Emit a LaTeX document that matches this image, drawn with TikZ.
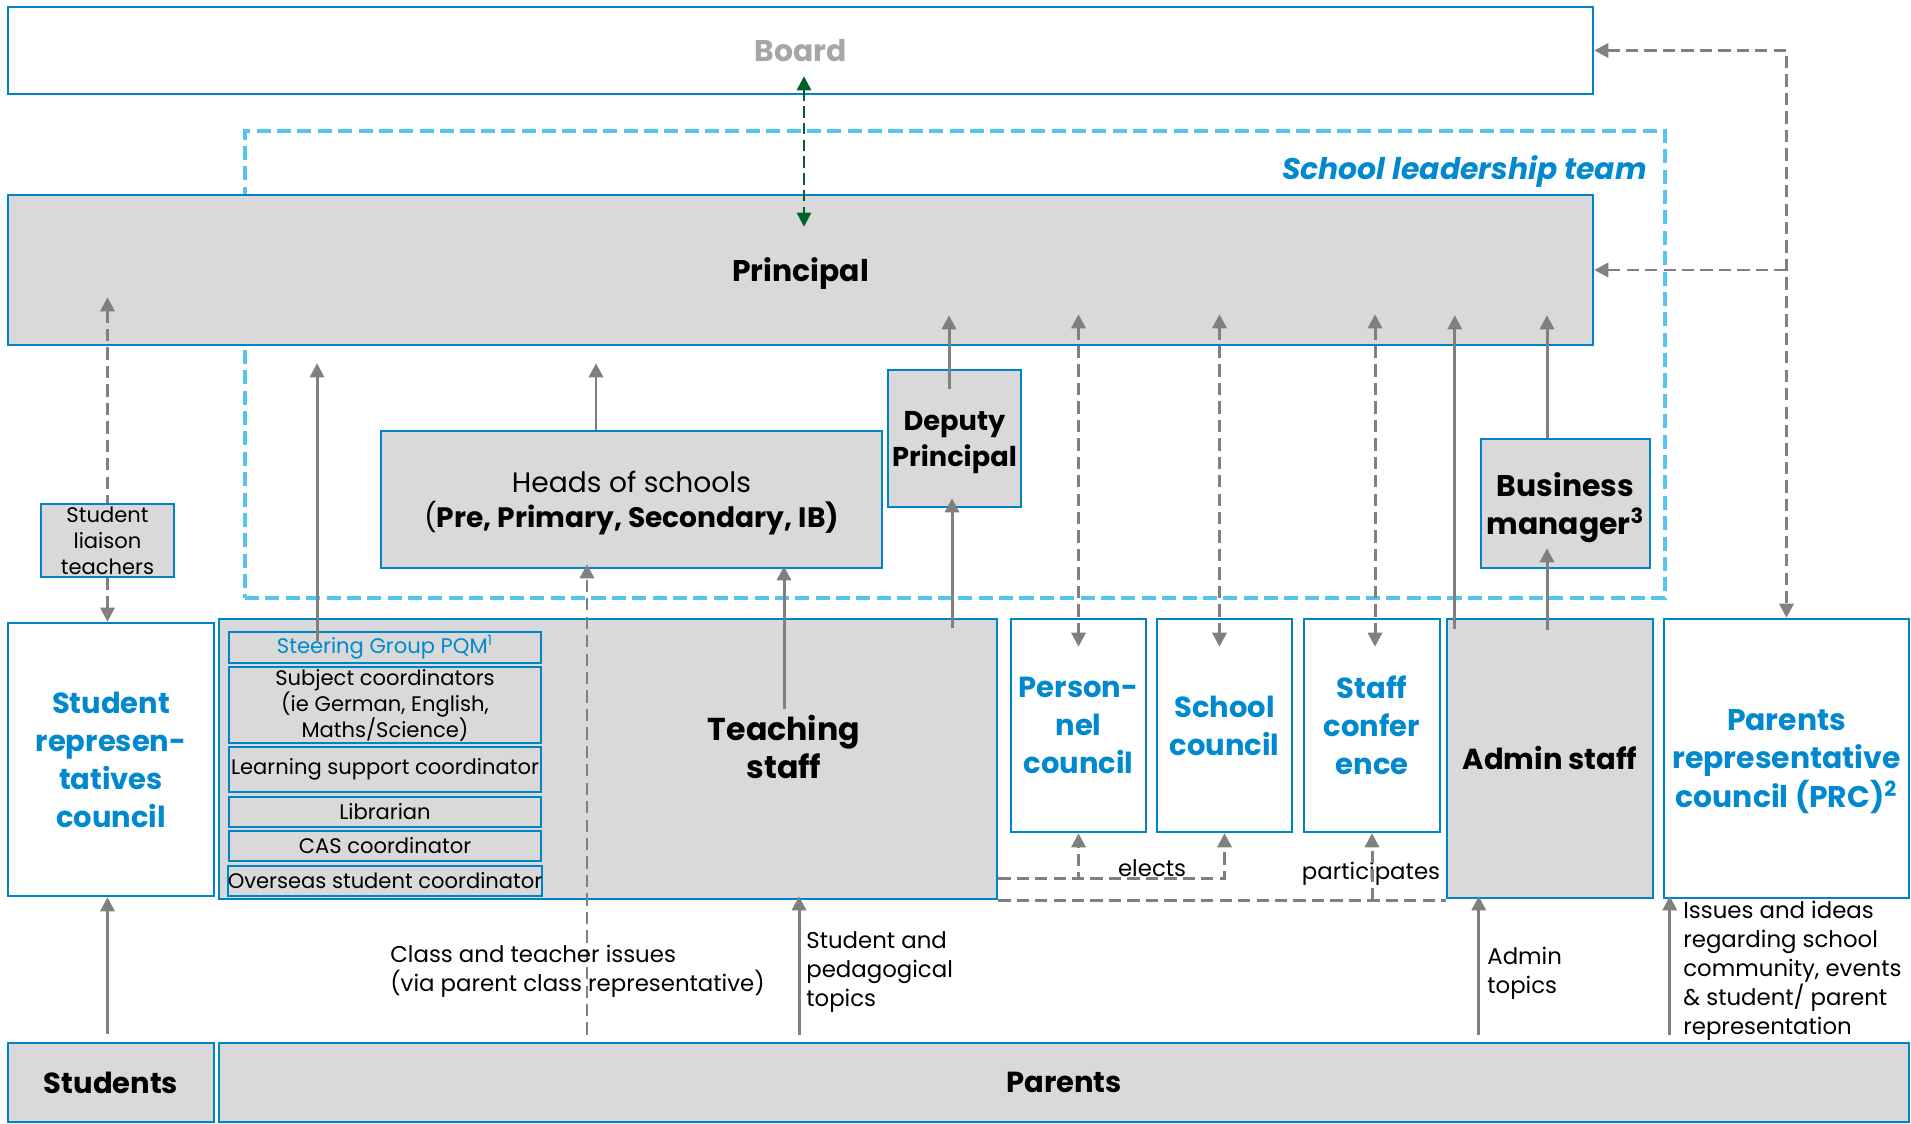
\documentclass[tikz,border=0pt]{standalone}
\usepackage{fontspec}
\setmainfont{Poppins}
\usetikzlibrary{arrows.meta,calc}

\definecolor{lineblue}{RGB}{0,132,200}
\definecolor{textblue}{RGB}{0,137,207}
\definecolor{teamblue}{RGB}{85,197,240}
\definecolor{boxgrey}{RGB}{217,217,217}
\definecolor{arrgrey}{RGB}{128,128,128}
\definecolor{boardgrey}{RGB}{166,166,166}
\definecolor{darkgreen}{RGB}{0,97,40}

\tikzset{
  wh/.style 2 args={minimum width=#1*0.02cm, minimum height=#2*0.02cm},
  box/.style={draw=lineblue, line width=1.4pt, inner sep=0pt, align=center},
  greybox/.style={box, fill=boxgrey},
  whitebox/.style={box, fill=white},
  smallbox/.style={greybox, line width=1.1pt, font=\fontsize{12}{14.8}\selectfont},
  council/.style={whitebox, text=textblue, font=\bfseries\fontsize{16.5}{21.6}\selectfont},
  team/.style={draw=teamblue, line width=2.3pt, dash pattern=on 8pt off 3.6pt, inner sep=0pt},
  arr/.style={draw=arrgrey, line width=1.7pt},
  darr/.style={arr, dash pattern=on 7pt off 3.5pt},
  garr/.style={draw=darkgreen, line width=1.4pt, dash pattern=on 6.5pt off 3pt},
  lbl/.style={font=\fontsize{13}{16.5}\selectfont, align=left, inner sep=0pt}
}

\begin{document}
\begin{tikzpicture}[x=0.02cm, y=-0.02cm, >={Triangle[width=8pt,length=8pt]}]
\useasboundingbox (0,0) rectangle (1911,1124);

% leadership frame first, the boxes sit on top of it
\node[team, wh={1420}{467}] (slt) at (955,364.5) {};
\node[anchor=east, text=textblue, font=\bfseries\itshape\fontsize{17}{20}\selectfont]
  (sltlabel) at ($(slt.north east)+(-14,43)$) {School leadership team};

% top rows
\node[whitebox, wh={1585}{87}, text=boardgrey, font=\bfseries\fontsize{17}{20}\selectfont] (board) at (800.5,50.5) {Board};
\node[greybox, wh={1585}{150}, text depth=0pt, font=\bfseries\fontsize{17}{20}\selectfont] (principal) at (800.5,270) {Principal};
\node[greybox, wh={501}{137}, text depth=0pt, font=\fontsize{16}{20}\selectfont] (heads) at (631.5,499.5)
  {Heads of schools\\(\textbf{Pre, Primary, Secondary, IB)}};
\node[greybox, wh={133}{137}, text depth=0pt, font=\bfseries\fontsize{15.5}{20.5}\selectfont] (deputy) at (954.5,438.5) {Deputy\\Principal};
\node[greybox, wh={169}{129}, text depth=0pt, font=\bfseries\fontsize{17}{22}\selectfont] (business) at (1565.5,503.5)
  {Business\\manager\textsuperscript{3}};
\node[smallbox, wh={133}{73}] (liaison) at (107.5,540.5) {Student\\liaison\\teachers};

% middle row
\node[council, wh={206}{273}] (studrep) at (111,759.5) {Student\\represen-\\tatives\\council};
\node[greybox, wh={778}{280}] (teaching) at (608,759) {};
\node[align=center, font=\bfseries\fontsize{18}{21.6}\selectfont] (tstext) at (784,747) {Teaching\\staff};
\node[smallbox, wh={312}{31}, text=textblue] (steering) at (385,647.5) {Steering Group PQM\textsuperscript{1}};
\node[smallbox, wh={312}{76}] (subject) at (385,705) {Subject coordinators\\(ie German, English,\\Maths/Science)};
\node[smallbox, wh={312}{45}] (learning) at (385,769.5) {Learning support coordinator};
\node[smallbox, wh={312}{30}] (librarian) at (385,812) {Librarian};
\node[smallbox, wh={312}{30}] (cas) at (385,846) {CAS coordinator};
\node[smallbox, wh={312}{30}] (overseas) at (385,881) {Overseas student coordinator};
\node[council, wh={135}{213}] (personnel) at (1078.5,725.5) {Person-\\nel\\council};
\node[council, wh={135}{213}] (schoolc) at (1224.5,725.5) {School\\council};
\node[council, wh={136}{213}] (staffc) at (1372,725.5) {Staff\\confer\\ence};
\node[greybox, wh={206}{279}, font=\bfseries\fontsize{16.5}{22}\selectfont] (admin) at (1550,758.5) {Admin staff};
\node[council, wh={245}{279}, text depth=0pt, font=\bfseries\fontsize{17}{22}\selectfont] (prc) at (1786.5,758.5)
  {Parents\\representative\\council (PRC)\textsuperscript{2}};

% bottom row
\node[greybox, wh={206}{79}, font=\bfseries\fontsize{16.5}{20}\selectfont] (students) at (111,1082.5) {Students};
\node[greybox, wh={1690}{79}, font=\bfseries\fontsize{16.5}{20}\selectfont] (parents) at (1064,1082.5) {Parents};

% board and principal
\draw[garr,<->] ($(board.south)+(3.5,-19)$) -- ($(principal.north)+(3.5,33)$);

% student liaison
\draw[darr,<-] ($(liaison.north |- principal.south)+(0,-49)$) -- (liaison.north);
\draw[darr,->] (liaison.south) -- (liaison.south |- studrep.north);
\draw[arr,->] ($(students.north -| liaison.south)+(0,-8)$) -- (liaison.south |- studrep.south);

% reporting lines up to the principal
\draw[arr,->] ($(steering.north west)+(89,10)$) -- ($(steering.north west |- principal.south)+(89,17)$);
\draw[arr,->] ($(heads.north)+(-35.5,0)$) -- ($(heads.north |- principal.south)+(-35.5,17)$);
\draw[arr,->] ($(deputy.north)+(-5.5,20)$) -- ($(deputy.north |- principal.south)+(-5.5,-31)$);
\draw[arr,->] (tstext.north) -- ($(tstext.north |- heads.south)+(0,-3)$);
\draw[arr,->] ($(teaching.north -| deputy.south)+(-2.5,10)$) -- ($(deputy.south)+(-2.5,-10)$);
\draw[arr,->] ($(admin.north west)+(9,11)$) -- ($(admin.north west |- principal.south)+(9,-31)$);
\draw[arr,->] ($(business.north)+(-18.5,0)$) -- ($(business.north |- principal.south)+(-18.5,-31)$);
\draw[arr,->] ($(admin.north -| business.north)+(-18.5,12)$) -- ($(business.south)+(-18.5,-21)$);

% councils
\draw[darr,<->] ($(personnel.north |- principal.south)+(0,-32)$) -- ($(personnel.north)+(0,29)$);
\draw[darr,<->] ($(schoolc.north |- principal.south)+(-5,-32)$) -- ($(schoolc.north)+(-5,29)$);
\draw[darr,<->] ($(staffc.north |- principal.south)+(3,-32)$) -- ($(staffc.north)+(3,29)$);

% parents representative council
\draw[darr,<->] (board.east) -| (prc.north);
\draw[darr,->] (prc.north |- principal.east) -- (principal.east);

% elects / participates
\draw[darr,->] ($(teaching.south east)+(0,-22)$) -| (personnel.south);
\draw[darr,->] ($(teaching.south east)+(0,-22)$) -| node[pos=0.34, above, lbl] {elects} (schoolc.south);
\draw[darr] (teaching.south east) -- node[pos=0.833, above=7.4pt, lbl] {participates} (teaching.south east -| admin.west);
\draw[darr,->] (staffc.south |- teaching.south) -- (staffc.south);

% from the parents
\draw[darr,->] ($(parents.north -| heads.south)+(-44.5,-7)$) -- ($(heads.south)+(-44.5,-5)$);
\draw[arr,->] ($(parents.north -| tstext.north)+(15,-7)$) -- ($(teaching.south -| tstext.north)+(15,-4)$);
\draw[arr,->] ($(parents.north -| admin.north west)+(33,-7)$) -- ($(admin.south west)+(33,-3)$);
\draw[arr,->] ($(parents.north -| prc.south west)+(7,-7)$) -- ($(prc.south west)+(7,-3)$);

% topic labels
\node[lbl, anchor=west] (classlbl) at (390,971) {Class and teacher issues\\(via parent class representative)};
\node[lbl, anchor=west] (pedlbl) at (806,972) {Student and\\pedagogical\\topics};
\node[lbl, anchor=west] (adminlbl) at (1487,973) {Admin\\topics};
\node[lbl, anchor=west] (issueslbl) at (1683,971) {Issues and ideas\\regarding school\\community, events\\\& student/ parent\\representation};
\end{tikzpicture}
\end{document}
